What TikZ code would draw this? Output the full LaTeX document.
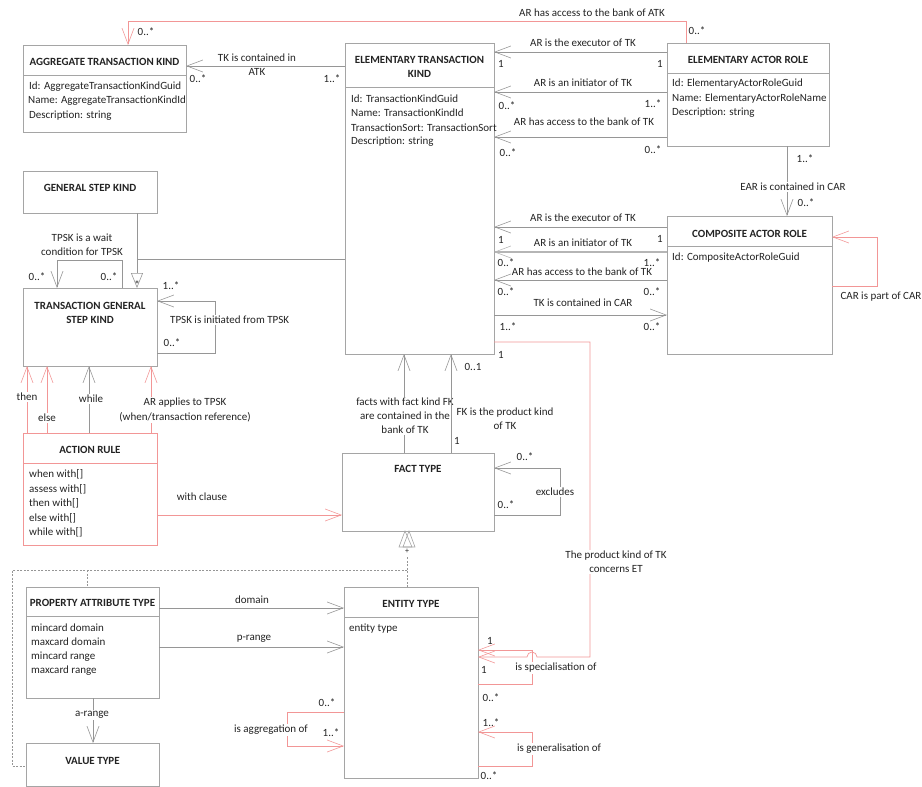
\documentclass[tikz,border=0pt]{standalone}
\usepackage{fontspec}
\setmainfont{Carlito}
\usetikzlibrary{arrows.meta,calc}
\definecolor{bx}{RGB}{165,165,165}
\definecolor{ln}{RGB}{150,150,150}
\definecolor{rd}{RGB}{242,150,150}
\definecolor{tx}{RGB}{35,35,35}
\begin{document}
\begin{tikzpicture}[x=1pt,y=-1pt,
  font=\fontsize{11}{14.2}\selectfont, text=tx,
  box/.style={draw=bx, line width=0.8pt, anchor=north west, inner sep=0pt, outer sep=0pt},
  rbox/.style={box, draw=rd},
  ttl/.style={font=\fontsize{11}{14}\selectfont\bfseries, align=center, inner sep=0pt},
  att/.style={anchor=west, inner sep=0pt},
  lbl/.style={inner sep=1pt, align=center},
  lblw/.style={lbl, fill=white},
  mul/.style={inner sep=0pt},
  sepl/.style={draw=bx, line width=0.8pt},
  gl/.style={draw=ln, line width=0.7pt},
  rl/.style={draw=rd, line width=0.7pt},
  dl/.style={draw=ln, line width=0.6pt, dash pattern=on 2pt off 1.5pt},
  oa/.style={-{Straight Barb[length=16pt,width=12pt,line width=0.6pt]}},
  gen/.style={-{Triangle[open,length=15pt,width=12pt,line width=0.6pt]}}
]
\useasboundingbox (0,0) rectangle (922,787);

% ---------- boxes ----------
\node[box,minimum width=163pt,minimum height=87pt] (atk) at (23,45) {};
\node[box,minimum width=149pt,minimum height=311pt] (etk) at (345,43) {};
\node[box,minimum width=162pt,minimum height=103pt] (ear) at (667,43) {};
\node[box,minimum width=134pt,minimum height=42pt] (gsk) at (23,171) {};
\node[box,minimum width=134pt,minimum height=78pt] (tgsk) at (23,288) {};
\node[box,minimum width=165pt,minimum height=138pt] (car) at (667,216) {};
\node[rbox,minimum width=134pt,minimum height=112pt] (ar) at (23,433) {};
\node[box,minimum width=152pt,minimum height=78pt] (ft) at (342,453) {};
\node[box,minimum width=133pt,minimum height=111pt] (pat) at (26,587) {};
\node[box,minimum width=133pt,minimum height=43pt] (vt) at (26,743) {};
\node[box,minimum width=134pt,minimum height=191pt] (et) at (344,587) {};

% ---------- box contents ----------
\node[ttl] (atkT) at (atk.north |- 0,62) {AGGREGATE TRANSACTION KIND};
\draw[sepl] (atk.west |- 0,75) -- (atk.east |- 0,75);
\node[att] (atk1) at (29,87) {Id: AggregateTransactionKindGuid};
\node[att] (atk2) at (28,101) {Name: AggregateTransactionKindId};
\node[att] (atk3) at (29,116) {Description: string};

\node[ttl] (etkT) at (etk.north |- 0,67) {ELEMENTARY TRANSACTION\\KIND};
\draw[sepl] (etk.west |- 0,87) -- (etk.east |- 0,87);
\node[att] (etk1) at (351,99) {Id: TransactionKindGuid};
\node[att] (etk2) at (351,113) {Name: TransactionKindId};
\node[att] (etk3) at (351,128) {TransactionSort: TransactionSort};
\node[att] (etk4) at (351,142) {Description: string};

\node[ttl] (earT) at (ear.north |- 0,60) {ELEMENTARY ACTOR ROLE};
\draw[sepl] (ear.west |- 0,73) -- (ear.east |- 0,73);
\node[att] (ear1) at (672,84) {Id: ElementaryActorRoleGuid};
\node[att] (ear2) at (672,99) {Name: ElementaryActorRoleName};
\node[att] (ear3) at (672,113) {Description: string};

\node[ttl] (gskT) at (gsk.north |- 0,188) {GENERAL STEP KIND};
\node[ttl] (tgskT) at (tgsk.north |- 0,313) {TRANSACTION GENERAL\\STEP KIND};

\node[ttl] (carT) at (car.north |- 0,234) {COMPOSITE ACTOR ROLE};
\draw[sepl] (car.west |- 0,246) -- (car.east |- 0,246);
\node[att] (car1) at (672,258) {Id: CompositeActorRoleGuid};

\node[ttl] (arT) at (ar.north |- 0,450) {ACTION RULE};
\draw[sepl,draw=rd] (ar.west |- 0,463) -- (ar.east |- 0,463);
\node[att] (ar1) at (29,474) {when with[]};
\node[att] (ar2) at (29,489) {assess with[]};
\node[att] (ar3) at (29,503) {then with[]};
\node[att] (ar4) at (29,518) {else with[]};
\node[att] (ar5) at (29,532) {while with[]};

\node[ttl] (ftT) at (ft.north |- 0,469) {FACT TYPE};

\node[ttl] (patT) at (pat.north |- 0,603) {PROPERTY ATTRIBUTE TYPE};
\draw[sepl] (pat.west |- 0,616) -- (pat.east |- 0,616);
\node[att] (pat1) at (31,628) {mincard domain};
\node[att] (pat2) at (31,642) {maxcard domain};
\node[att] (pat3) at (31,657) {mincard range};
\node[att] (pat4) at (31,671) {maxcard range};

\node[ttl] (vtT) at (vt.north |- 0,761) {VALUE TYPE};

\node[ttl] (etT) at (et.north |- 0,604) {ENTITY TYPE};
\draw[sepl] (et.west |- 0,617) -- (et.east |- 0,617);
\node[att] (et1) at (349,629) {entity type};

% ---------- connectors ----------
% EAR -> ATK
\draw[rl,oa] (ear.north -| 686,0) -- (686,21) -- (128,21) -- (atk.north -| 128,0);
\node[lbl] (c1) at (592,13) {AR has access to the bank of ATK};
\node[mul] (c1a) at (146,32) {0..*};
\node[mul] (c1b) at (697,31) {0..*};

% ETK -> ATK
\draw[gl,oa] (etk.west |- 0,66) -- (atk.east |- 0,66);
\node[lbl] (c2) at (257,65) {TK is contained in\\ATK};
\node[mul] (c2a) at (198,79) {0..*};
\node[mul] (c2b) at (332,79) {1..*};

% EAR -> ETK
\draw[gl,oa] (ear.west |- 0,52) -- (etk.east |- 0,52);
\node[lbl] (c3) at (583,43) {AR is the executor of TK};
\node[mul] (c3a) at (501,64) {1};
\node[mul] (c3b) at (660,64) {1};
\draw[gl,oa] (ear.west |- 0,92) -- (etk.east |- 0,92);
\node[lbl] (c4) at (583,83) {AR is an initiator of TK};
\node[mul] (c4a) at (507,106) {0..*};
\node[mul] (c4b) at (653,104) {1..*};
\draw[gl,oa] (ear.west |- 0,137) -- (etk.east |- 0,137);
\node[lbl] (c5) at (584,122) {AR has access to the bank of TK};
\node[mul] (c5a) at (508,153) {0..*};
\node[mul] (c5b) at (653,150) {0..*};

% EAR -> CAR
\draw[gl,oa] (ear.south -| 787,0) -- (car.north -| 787,0);
\node[lblw] (c6) at (793,187) {EAR is contained in CAR};
\node[mul] (c6a) at (805,159) {1..*};
\node[mul] (c6b) at (806,203) {0..*};

% CAR -> ETK
\draw[gl,oa] (car.west |- 0,227) -- (etk.east |- 0,227);
\node[lbl] (c7) at (583,218) {AR is the executor of TK};
\node[mul] (c7a) at (501,240) {1};
\node[mul] (c7b) at (660,239) {1};
\draw[gl,oa,line width=1.1pt,draw=ln!70] (car.west |- 0,252) -- (etk.east |- 0,252);
\node[lbl] (c8) at (583,243) {AR is an initiator of TK};
\node[mul] (c8a) at (506,263) {0..*};
\node[mul] (c8b) at (652,263) {1..*};
\draw[gl,oa] (car.west |- 0,280) -- (etk.east |- 0,280);
\node[lbl] (c9) at (582,272) {AR has access to the bank of TK};
\node[mul] (c9a) at (506,292) {0..*};
\node[mul] (c9b) at (652,292) {0..*};
\draw[gl,oa] (etk.east |- 0,315) -- (car.west |- 0,315);
\node[lbl] (c10) at (583,303) {TK is contained in CAR};
\node[mul] (c10a) at (508,327) {1..*};
\node[mul] (c10b) at (652,327) {0..*};

% CAR self
\draw[rl,oa] (car.east |- 0,286) -- (877,286) -- (877,237) -- (car.east |- 0,237);
\node[lbl] (c11) at (881,297) {CAR is part of CAR};

% GSK / ETK generalisation to TGSK
\draw[gl,gen] (gsk.south -| 137,0) -- (tgsk.north -| 137,0);
\draw[gl] (137,259) -- (etk.west |- 0,259);
\node[mul] (c12) at (137,285) {*};

% TGSK self loops
\draw[gl,oa] (tgsk.north -| 122,0) -- (122,260) -- (57,260) -- (tgsk.north -| 57,0);
\node[lbl] (c13) at (82,245) {TPSK is a wait\\condition for TPSK};
\node[mul] (c13a) at (37,277) {0..*};
\node[mul] (c13b) at (109,277) {0..*};
\draw[gl,oa] (tgsk.east |- 0,353) -- (215,353) -- (215,301) -- (tgsk.east |- 0,301);
\node[lblw,anchor=west] (c14) at (169,320) {TPSK is initiated from TPSK};
\node[mul] (c14a) at (171,286) {1..*};
\node[mul] (c14b) at (172,343) {0..*};

% ACTION RULE -> TGSK
\draw[rl,oa] (ar.north -| 27,0) -- (tgsk.south -| 27,0);
\node[lblw] (c15) at (27,397) {then};
\draw[rl,oa] (ar.north -| 47,0) -- (tgsk.south -| 47,0);
\node[lblw] (c16) at (47,418) {else};
\draw[gl,oa] (ar.north -| 89,0) -- (tgsk.south -| 89,0);
\node[lblw] (c17) at (91,399) {while};
\draw[rl,oa] (ar.north -| 151,0) -- (tgsk.south -| 151,0);
\node[lblw] (c18) at (185,410) {AR applies to TPSK\\(when/transaction reference)};

% ACTION RULE -> FACT TYPE
\draw[rl,oa] (ar.east |- 0,515) -- (ft.west |- 0,515);
\node[lbl] (c19) at (202,497) {with clause};

% FACT TYPE -> ETK
\draw[gl,oa] (ft.north -| 404,0) -- (etk.south -| 404,0);
\node[lblw] (c20) at (405,416) {facts with fact kind FK\\are contained in the\\bank of TK};
\draw[gl,oa] (ft.north -| 451,0) -- (etk.south -| 451,0);
\node[lbl] (c21) at (505,419) {FK is the product kind\\of TK};
\node[mul] (c21a) at (473,367) {0..1};
\node[mul] (c21b) at (457,441) {1};

% FACT TYPE self
\draw[gl,oa] (ft.east |- 0,515) -- (560,515) -- (560,468) -- (ft.east |- 0,468);
\node[lblw] (c22) at (555,492) {excludes};
\node[mul] (c22a) at (525,457) {0..*};
\node[mul] (c22b) at (506,505) {0..*};

% generalisation to FACT TYPE
\draw[dl] (et.north -| 407,0) -- (407,557);
\draw[draw=bx,line width=0.6pt] (ft.south -| 405,0) -- (399,547) -- (412,547) -- cycle;
\draw[draw=bx,line width=0.6pt] (ft.south -| 409,0) -- (403,547) -- (415,547) -- cycle;
\node[mul] (c23) at (407,551) {\fontsize{8}{8}\selectfont +};
\draw[dl] (407,570) -- (12,570) -- (12,766) -- (vt.west |- 0,766);
\draw[dl] (87,570) -- (pat.north -| 87,0);

% ETK -> ENTITY TYPE (product kind)
\draw[rl,oa] (etk.east |- 0,342) -- (590,342) -- (590,657) -- (537,657)
   arc[start angle=0,end angle=180,radius=5pt] -- (et.east |- 0,657);
\node[lblw] (c24) at (616,562) {The product kind of TK\\concerns ET};
\node[mul] (c24a) at (501,355) {1};

% ENTITY TYPE self loops
\draw[rl,oa] (et.east |- 0,684) -- (532,684) -- (532,650) -- (et.east |- 0,650);
\node[lblw] (c25) at (556,668) {is specialisation of};
\node[mul] (c25a) at (490,641) {1};
\node[mul] (c25b) at (484,670) {1};
\node[mul] (c25c) at (491,698) {0..*};
\draw[rl,oa] (et.east |- 0,766) -- (532,766) -- (532,732) -- (et.east |- 0,732);
\node[lblw] (c26) at (559,749) {is generalisation of};
\node[mul] (c26a) at (491,723) {1..*};
\node[mul] (c26b) at (489,776) {0..*};
\draw[rl,oa] (et.west |- 0,712) -- (287,712) -- (287,746) -- (et.west |- 0,746);
\node[lblw] (c27) at (271,730) {is aggregation of};
\node[mul] (c27a) at (327,703) {0..*};
\node[mul] (c27b) at (331,733) {1..*};

% PAT -> ENTITY TYPE / VALUE TYPE
\draw[gl,oa] (pat.east |- 0,608) -- (et.west |- 0,608);
\node[lbl] (c28) at (252,600) {domain};
\draw[gl,oa] (pat.east |- 0,647) -- (et.west |- 0,647);
\node[lbl] (c29) at (254,639) {p-range};
\draw[gl,oa] (pat.south -| 93,0) -- (vt.north -| 93,0);
\node[lblw] (c30) at (92,715) {a-range};
\end{tikzpicture}
\end{document}
